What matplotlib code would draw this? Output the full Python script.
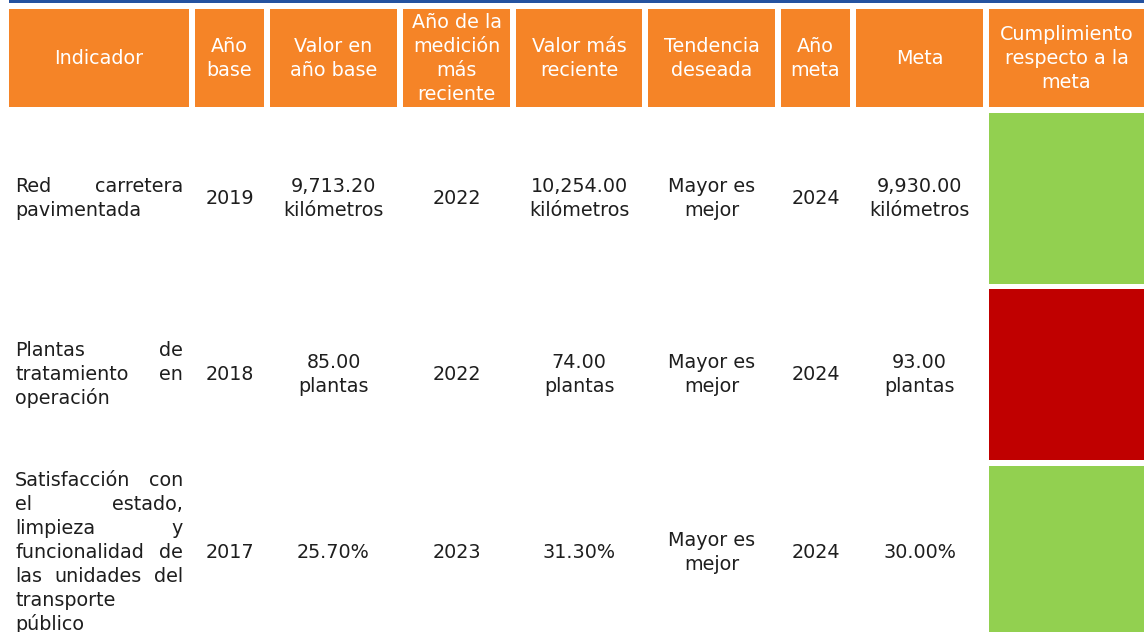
import matplotlib.pyplot as plt
from matplotlib.patches import Rectangle

plt.rcParams['font.family'] = ['DejaVu Sans']

encabezados = [
    ['Indicador'],
    ['Año', 'base'],
    ['Valor en', 'año base'],
    ['Año de la', 'medición', 'más', 'reciente'],
    ['Valor más', 'reciente'],
    ['Tendencia', 'deseada'],
    ['Año', 'meta'],
    ['Meta'],
    ['Cumplimiento', 'respecto a la', 'meta'],
]

indicadores = [
    ['Red carretera', 'pavimentada'],
    ['Plantas de', 'tratamiento en', 'operación'],
    ['Satisfacción con', 'el estado,', 'limpieza y', 'funcionalidad de',
     'las unidades del', 'transporte', 'público'],
]
anio_base = ['2019', '2018', '2017']
valor_base = [['9,713.20', 'kilómetros'], ['85.00', 'plantas'], ['25.70%']]
anio_reciente = ['2022', '2022', '2023']
valor_reciente = [['10,254.00', 'kilómetros'], ['74.00', 'plantas'], ['31.30%']]
tendencia = [['Mayor es', 'mejor']] * 3
anio_meta = ['2024', '2024', '2024']
meta = [['9,930.00', 'kilómetros'], ['93.00', 'plantas'], ['30.00%']]
cumplimiento = ['verde', 'rojo', 'verde']

colores = {'verde': '#92D050', 'rojo': '#C00000'}
naranja = '#F58427'
azul = '#2452A0'
texto = '#1E1E1E'

# limites de columnas en pixeles
cols = [(9, 189), (195, 264), (270, 397), (403, 510), (516, 642),
        (648, 775), (781, 850), (856, 983), (989, 1144)]
filas = [(113, 284), (289, 460), (466, 640)]
paso = 24
fs = 13.8

fig = plt.figure(figsize=(11.44, 6.32), dpi=100)
ax = fig.add_axes([0, 0, 1, 1])
ax.set_xlim(0, 1144)
ax.set_ylim(632, 0)
ax.axis('off')

ax.add_patch(Rectangle((9, 0), 1135, 3, color=azul, lw=0))


def lineas(x, yc, textos, color, peso='normal'):
    n = len(textos)
    for i, t in enumerate(textos):
        ax.text(x, yc + (i - (n - 1) / 2) * paso, t, ha='center', va='center',
                fontsize=fs, color=color, fontweight=peso)


for (x0, x1), enc in zip(cols, encabezados):
    ax.add_patch(Rectangle((x0, 9), x1 - x0, 98, color=naranja, lw=0))
    lineas((x0 + x1) / 2, 58, enc, 'white')

renderer = fig.canvas.get_renderer()


def justificado(x0, x1, y, linea, ultima):
    palabras = linea.split()
    if ultima or len(palabras) == 1:
        ax.text(x0, y, linea, ha='left', va='center', fontsize=fs, color=texto)
        return
    objs = [ax.text(0, y, p, ha='left', va='center', fontsize=fs, color=texto)
            for p in palabras]
    inv = ax.transData.inverted()
    anchos = []
    for o in objs:
        bb = o.get_window_extent(renderer)
        a = inv.transform((bb.x1, 0))[0] - inv.transform((bb.x0, 0))[0]
        anchos.append(a)
    hueco = (x1 - x0 - sum(anchos)) / (len(palabras) - 1)
    x = x0
    for o, a in zip(objs, anchos):
        o.set_x(x)
        x += a + hueco


for i, (y0, y1) in enumerate(filas):
    yc = (y0 + y1) / 2 if i < 2 else 552
    n = len(indicadores[i])
    for j, l in enumerate(indicadores[i]):
        justificado(15, 183, yc + (j - (n - 1) / 2) * paso, l, j == n - 1)
    celdas = [[anio_base[i]], valor_base[i], [anio_reciente[i]],
              valor_reciente[i], tendencia[i], [anio_meta[i]], meta[i]]
    for (x0, x1), c in zip(cols[1:8], celdas):
        lineas((x0 + x1) / 2, yc, c, texto)
    x0, x1 = cols[8]
    ax.add_patch(Rectangle((x0, y0), x1 - x0, y1 - y0,
                           color=colores[cumplimiento[i]], lw=0))

fig.savefig('out.png', dpi=100)
